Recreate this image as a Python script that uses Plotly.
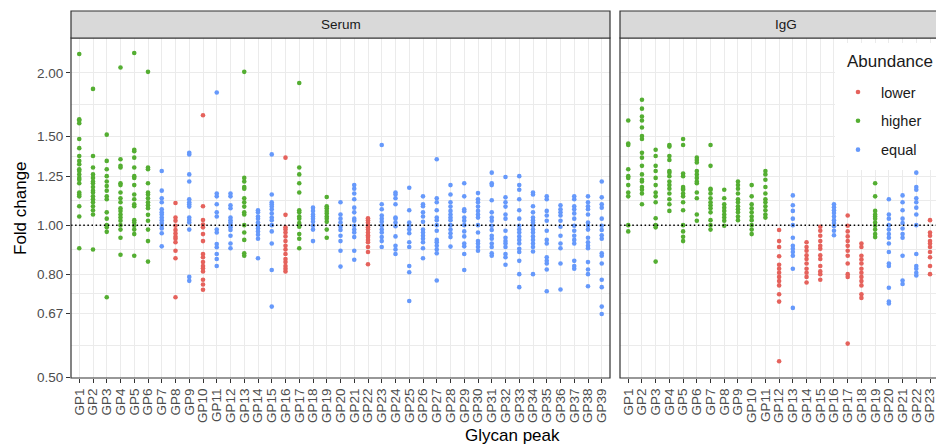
import math
import plotly.graph_objects as go

# ---------------- data ----------------
serum_peaks = [f"GP{i}" for i in range(1, 40)]
serum_abundance = [
    "higher", "higher", "higher", "higher", "higher", "higher", "equal", "lower", "equal", "lower",
    "equal", "equal", "higher", "equal", "equal", "lower", "higher", "equal", "higher", "equal",
    "equal", "lower", "equal", "equal", "equal", "equal", "equal", "equal", "equal", "equal",
    "equal", "equal", "equal", "equal", "equal", "equal", "equal", "equal", "equal",
]
serum_fold_change = [
    [2.18, 1.62, 1.61, 1.59, 1.48, 1.42, 1.37, 1.34, 1.32, 1.29, 1.28, 1.26, 1.24, 1.23, 1.21, 1.16, 1.15, 1.14, 1.09, 1.04, 0.90],
    [1.86, 1.37, 1.30, 1.26, 1.24, 1.22, 1.21, 1.19, 1.17, 1.16, 1.14, 1.125, 1.11, 1.09, 1.07, 1.05, 0.895],
    [1.51, 1.34, 1.29, 1.25, 1.22, 1.195, 1.17, 1.14, 1.125, 1.06, 1.03, 1.00, 0.99, 0.97, 0.72],
    [2.05, 1.35, 1.31, 1.30, 1.21, 1.20, 1.16, 1.13, 1.11, 1.08, 1.067, 1.05, 1.035, 1.02, 1.00, 0.98, 0.944, 0.874],
    [2.19, 1.41, 1.40, 1.36, 1.30, 1.25, 1.24, 1.20, 1.15, 1.125, 1.10, 1.09, 1.023, 1.012, 0.997, 0.98, 0.96, 0.87],
    [2.01, 1.30, 1.29, 1.21, 1.16, 1.15, 1.13, 1.11, 1.095, 1.08, 1.048, 1.02, 0.98, 0.93, 0.847],
    [1.28, 1.17, 1.13, 1.11, 1.075, 1.06, 1.05, 1.035, 1.023, 1.01, 0.997, 0.985, 0.964, 0.908],
    [1.106, 1.035, 1.02, 0.997, 0.978, 0.963, 0.948, 0.94, 0.925, 0.89, 0.86, 0.72],
    [1.39, 1.38, 1.26, 1.22, 1.125, 1.11, 1.10, 1.088, 1.035, 1.024, 1.012, 0.98, 0.79, 0.776],
    [1.65, 1.09, 1.024, 1.003, 0.99, 0.96, 0.93, 0.877, 0.864, 0.845, 0.83, 0.822, 0.81, 0.78, 0.763, 0.745],
    [1.83, 1.155, 1.14, 1.10, 1.06, 1.04, 0.98, 0.967, 0.918, 0.904, 0.877, 0.857, 0.83],
    [1.155, 1.14, 1.095, 1.08, 1.035, 1.023, 1.012, 1.0, 0.99, 0.978, 0.953, 0.92, 0.90],
    [2.01, 1.24, 1.22, 1.19, 1.18, 1.13, 1.11, 1.088, 1.06, 1.05, 1.0, 0.967, 0.935, 0.88, 0.87],
    [1.07, 1.06, 1.04, 1.03, 1.012, 0.997, 0.985, 0.972, 0.957, 0.94, 0.86],
    [1.38, 1.15, 1.11, 1.10, 1.088, 1.075, 1.055, 1.035, 1.023, 1.0, 0.972, 0.92, 0.815, 0.69],
    [1.36, 1.048, 0.99, 0.98, 0.967, 0.95, 0.93, 0.91, 0.895, 0.877, 0.857, 0.845, 0.83, 0.82, 0.81],
    [1.91, 1.30, 1.26, 1.21, 1.16, 1.07, 1.06, 1.04, 1.03, 1.01, 0.993, 0.96, 0.94, 0.90],
    [1.083, 1.067, 1.05, 1.04, 1.03, 1.015, 0.997, 0.98, 0.93],
    [1.137, 1.09, 1.08, 1.067, 1.055, 1.04, 1.03, 1.015, 0.98, 0.944],
    [1.11, 1.05, 1.03, 1.012, 0.993, 0.978, 0.953, 0.93, 0.89, 0.828],
    [1.20, 1.18, 1.155, 1.125, 1.083, 1.06, 1.03, 1.02, 0.997, 0.98, 0.967, 0.947, 0.89, 0.854],
    [1.032, 1.023, 1.012, 1.0, 0.99, 0.98, 0.967, 0.955, 0.947, 0.935, 0.925, 0.905, 0.885, 0.837],
    [1.44, 1.10, 1.075, 1.045, 1.03, 1.015, 0.997, 0.98, 0.967, 0.947, 0.93, 0.905],
    [1.16, 1.15, 1.13, 1.10, 1.035, 1.03, 1.012, 0.995, 0.95, 0.91, 0.895, 0.877],
    [1.186, 1.07, 1.012, 0.997, 0.98, 0.964, 0.925, 0.905, 0.83, 0.807, 0.708],
    [1.14, 1.10, 1.09, 1.06, 1.04, 1.015, 0.98, 0.967, 0.953, 0.94, 0.925, 0.90, 0.86],
    [1.35, 1.13, 1.11, 1.07, 1.035, 1.023, 1.0, 0.975, 0.935, 0.925, 0.91, 0.895, 0.88, 0.777],
    [1.20, 1.15, 1.11, 1.088, 1.067, 1.05, 1.035, 1.023, 1.0, 0.98, 0.964, 0.947, 0.907],
    [1.21, 1.14, 1.075, 1.065, 1.035, 1.02, 1.0, 0.972, 0.95, 0.92, 0.908, 0.877, 0.815],
    [1.157, 1.125, 1.11, 1.088, 1.067, 1.05, 1.035, 1.0, 0.967, 0.93, 0.92, 0.905, 0.89],
    [1.27, 1.21, 1.20, 1.12, 1.06, 1.035, 1.02, 0.997, 0.978, 0.953, 0.94, 0.92, 0.905, 0.88, 0.87],
    [1.245, 1.135, 1.11, 1.088, 1.05, 1.03, 0.975, 0.944, 0.93, 0.92, 0.905, 0.877, 0.864, 0.835],
    [1.25, 1.20, 1.175, 1.125, 1.07, 1.03, 0.997, 0.98, 0.967, 0.95, 0.935, 0.92, 0.898, 0.885, 0.85, 0.80, 0.754],
    [1.16, 1.15, 1.09, 1.06, 1.035, 1.023, 1.012, 0.997, 0.98, 0.967, 0.95, 0.935, 0.92, 0.905, 0.887, 0.80],
    [1.14, 1.125, 1.067, 1.045, 1.02, 0.975, 0.935, 0.92, 0.864, 0.85, 0.84, 0.817, 0.74],
    [1.095, 1.075, 1.06, 1.045, 1.02, 0.993, 0.953, 0.92, 0.90, 0.84, 0.746],
    [1.14, 1.125, 1.09, 1.075, 1.055, 1.03, 0.997, 0.975, 0.953, 0.935, 0.92, 0.85, 0.83, 0.82],
    [1.14, 1.11, 1.09, 1.075, 1.05, 1.012, 0.997, 0.98, 0.944, 0.925, 0.91, 0.90, 0.845, 0.817, 0.80, 0.757],
    [1.22, 1.135, 1.10, 1.083, 1.03, 0.997, 0.978, 0.955, 0.94, 0.88, 0.87, 0.84, 0.78, 0.754, 0.69, 0.667],
]

igg_peaks = [f"GP{i}" for i in range(1, 25)]
igg_abundance = [
    "higher", "higher", "higher", "higher", "higher", "higher", "higher", "higher", "higher", "higher",
    "higher", "lower", "equal", "lower", "lower", "equal", "lower", "lower", "higher", "equal",
    "equal", "equal", "lower", "equal",
]
igg_fold_change = [
    [1.61, 1.45, 1.44, 1.29, 1.25, 1.24, 1.20, 1.16, 1.14, 1.0, 0.972],
    [1.77, 1.70, 1.64, 1.61, 1.56, 1.50, 1.48, 1.39, 1.36, 1.31, 1.26, 1.23, 1.22, 1.19, 1.175, 1.155, 1.10],
    [1.41, 1.37, 1.31, 1.28, 1.24, 1.20, 1.16, 1.14, 1.11, 1.032, 1.0, 0.99, 0.847],
    [1.44, 1.43, 1.37, 1.345, 1.28, 1.27, 1.25, 1.22, 1.20, 1.18, 1.155, 1.125, 1.10, 1.067],
    [1.48, 1.44, 1.265, 1.25, 1.19, 1.18, 1.175, 1.155, 1.14, 1.11, 1.07, 1.0, 0.972, 0.948, 0.93],
    [1.36, 1.345, 1.33, 1.28, 1.26, 1.24, 1.22, 1.21, 1.16, 1.13, 1.05, 1.02],
    [1.44, 1.31, 1.18, 1.175, 1.155, 1.13, 1.11, 1.095, 1.08, 1.06, 1.023, 1.0, 0.98],
    [1.175, 1.13, 1.10, 1.083, 1.067, 1.05, 1.035, 1.02, 0.997],
    [1.22, 1.20, 1.18, 1.155, 1.125, 1.11, 1.09, 1.075, 1.06, 1.04, 1.023],
    [1.20, 1.14, 1.10, 1.08, 1.06, 1.04, 1.023, 1.0, 0.98, 0.96],
    [1.28, 1.26, 1.23, 1.19, 1.155, 1.125, 1.11, 1.09, 1.07, 1.05, 1.035],
    [0.978, 0.93, 0.905, 0.868, 0.835, 0.82, 0.805, 0.79, 0.775, 0.76, 0.73, 0.706, 0.538],
    [1.145, 1.095, 1.067, 1.03, 1.0, 0.944, 0.91, 0.898, 0.885, 0.87, 0.82, 0.686],
    [0.925, 0.905, 0.89, 0.872, 0.857, 0.84, 0.82, 0.805, 0.79, 0.77],
    [0.993, 0.975, 0.953, 0.93, 0.91, 0.898, 0.872, 0.857, 0.83, 0.81, 0.80, 0.78],
    [1.10, 1.085, 1.07, 1.057, 1.04, 1.023, 1.01, 0.995, 0.975, 0.955],
    [1.045, 0.997, 0.972, 0.95, 0.93, 0.91, 0.89, 0.87, 0.84, 0.80, 0.79, 0.583],
    [0.92, 0.905, 0.87, 0.855, 0.84, 0.82, 0.805, 0.79, 0.775, 0.76, 0.73, 0.718],
    [1.21, 1.14, 1.067, 1.05, 1.04, 1.03, 1.012, 0.997, 0.98, 0.96, 0.947],
    [1.125, 1.05, 1.03, 1.0, 0.98, 0.96, 0.944, 0.92, 0.885, 0.84, 0.83, 0.752, 0.706, 0.70],
    [1.145, 1.11, 1.07, 1.03, 1.01, 0.985, 0.96, 0.944, 0.87, 0.777, 0.765],
    [1.27, 1.19, 1.175, 1.13, 1.11, 1.083, 1.05, 1.0, 0.877, 0.83, 0.82, 0.805, 0.795],
    [1.023, 0.967, 0.953, 0.93, 0.92, 0.905, 0.885, 0.864, 0.83, 0.80],
    [1.18, 1.135, 1.09, 1.05, 1.0, 0.95, 0.88],
]

abundance_levels = ["lower", "higher", "equal"]
abundance_colors = {"lower": "#E5625C", "higher": "#54AE32", "equal": "#6699FB"}

y_tick_values = [0.5, 0.67, 0.8, 1.0, 1.25, 1.5, 2.0]
y_tick_labels = ["0.50", "0.67", "0.80", "1.00", "1.25", "1.50", "2.00"]

# ---------------- figure ----------------
FONT = "Liberation Sans, Arial, Helvetica, sans-serif"
OFF = 8  # page body margin
W, H = 944 - OFF, 444 - OFF
ML, MT = 71 - OFF, 38 - OFF
PANEL_BOTTOM = 378 - OFF
MB = H - PANEL_BOTTOM
MR = 0
PW, PH = W - ML - MR, H - MT - MB


def px(sx):
    """screen x -> paper x"""
    return (sx - OFF - ML) / PW


def py(sy):
    """screen y -> paper y"""
    return (PANEL_BOTTOM - (sy - OFF)) / PH


fig = go.Figure()

panels = [
    ("x", "y", serum_peaks, serum_abundance, serum_fold_change),
    ("x2", "y2", igg_peaks, igg_abundance, igg_fold_change),
]
shown = set()
for xa, ya, peaks, abund, folds in panels:
    for level in abundance_levels:
        xs, ys = [], []
        for p, a, vals in zip(peaks, abund, folds):
            if a == level:
                xs += [p] * len(vals)
                ys += vals
        if not xs:
            continue
        fig.add_trace(go.Scatter(
            x=xs, y=ys, mode="markers", xaxis=xa, yaxis=ya,
            name=level, legendgroup=level, showlegend=level not in shown,
            marker=dict(size=4.6, color=abundance_colors[level], line=dict(width=0)),
            hoverinfo="x+y+name",
        ))
        shown.add(level)

minor_vals = [math.sqrt(a * b) for a, b in zip(y_tick_values[:-1], y_tick_values[1:])]
y_range = [math.log10(0.4985), math.log10(2.345)]

x1_dom = [0, px(610)]
x2_dom = [px(620), 1]

common_x = dict(
    type="category", showgrid=True, gridcolor="#EBEBEB", gridwidth=1.1,
    ticks="outside", ticklen=4, tickcolor="#333333", tickwidth=1.1,
    tickangle=-90, tickfont=dict(family=FONT, size=13.5, color="#4D4D4D"),
    zeroline=False, showline=False, tickmode="array", automargin=False,
)
fig.update_layout(
    width=W, height=H,
    margin=dict(l=ML, r=MR, t=MT, b=MB, pad=0),
    paper_bgcolor="white", plot_bgcolor="white",
    font=dict(family=FONT, color="#1A1A1A"),
    xaxis=dict(domain=x1_dom, range=[-0.6, len(serum_peaks) - 0.4],
               categoryorder="array", categoryarray=serum_peaks,
               tickvals=serum_peaks, ticktext=serum_peaks, anchor="y", **common_x),
    xaxis2=dict(domain=x2_dom, range=[-0.6, 23.02],
                categoryorder="array", categoryarray=igg_peaks,
                tickvals=igg_peaks, ticktext=igg_peaks, anchor="y2", **common_x),
    yaxis=dict(type="log", range=y_range, tickmode="array",
               tickvals=y_tick_values, ticktext=y_tick_labels,
               showgrid=True, gridcolor="#EBEBEB", gridwidth=1.1,
               minor=dict(tickmode="array", tickvals=minor_vals, showgrid=True,
                          gridcolor="#EBEBEB", gridwidth=0.6, ticks=""),
               ticks="outside", ticklen=4, tickcolor="#333333", tickwidth=1.1,
               tickfont=dict(family=FONT, size=13.5, color="#4D4D4D"),
               zeroline=False, showline=False, anchor="x", automargin=False),
    yaxis2=dict(type="log", range=y_range, matches="y", tickmode="array",
                tickvals=y_tick_values, showticklabels=False,
                showgrid=True, gridcolor="#EBEBEB", gridwidth=1.1,
                minor=dict(tickmode="array", tickvals=minor_vals, showgrid=True,
                           gridcolor="#EBEBEB", gridwidth=0.6, ticks=""),
                ticks="", zeroline=False, showline=False, anchor="x2", automargin=False),
    legend=dict(
        x=px(835), y=py(76), xanchor="left", yanchor="top",
        bgcolor="rgba(255,255,255,0)", borderwidth=0,
        font=dict(family=FONT, size=14.5, color="#1A1A1A"),
        traceorder="grouped", tracegroupgap=7, itemsizing="trace", itemwidth=36,
    ),
    showlegend=True,
)

strip_top = py(11)
shapes = []
# reference line at 1
for xr, yr in (("x domain", "y"), ("x2 domain", "y2")):
    shapes.append(dict(type="line", xref=xr, yref=yr, x0=0, x1=1, y0=1.0, y1=1.0,
                       line=dict(color="black", width=1.5, dash="1.5px,2.6px"), layer="above"))
# legend background box
shapes.append(dict(type="rect", xref="paper", yref="paper", x0=px(835), x1=1.02,
                   y0=py(170), y1=py(43), line=dict(width=0), fillcolor="white", layer="above"))
# panel borders
shapes.append(dict(type="rect", xref="x domain", yref="paper", x0=0, x1=1, y0=0, y1=1,
                   line=dict(color="#333333", width=1.2), fillcolor="rgba(0,0,0,0)", layer="above"))
shapes.append(dict(type="path", xref="x2 domain", yref="paper",
                   path="M 1.05,0 L 0,0 L 0,1 L 1.05,1",
                   line=dict(color="#333333", width=1.2), layer="above"))
# strips
shapes.append(dict(type="rect", xref="x domain", yref="paper", x0=0, x1=1, y0=1, y1=strip_top,
                   line=dict(color="#333333", width=1.2), fillcolor="#D9D9D9", layer="above"))
shapes.append(dict(type="rect", xref="x2 domain", yref="paper", x0=0, x1=1.05, y0=1, y1=strip_top,
                   line=dict(color="#333333", width=1.2), fillcolor="#D9D9D9", layer="above"))
fig.update_layout(shapes=shapes)

strip_mid = (1 + strip_top) / 2
annotations = [
    dict(text="Serum", xref="x domain", yref="paper", x=0.5, y=strip_mid, showarrow=False,
         font=dict(family=FONT, size=13.5, color="#1A1A1A"), xanchor="center", yanchor="middle"),
    dict(text="IgG", xref="paper", yref="paper", x=px(786), y=strip_mid, showarrow=False,
         font=dict(family=FONT, size=13.5, color="#1A1A1A"), xanchor="center", yanchor="middle"),
    dict(text="Fold change", xref="paper", yref="paper", x=px(20), y=0.5, showarrow=False,
         textangle=-90, font=dict(family=FONT, size=17, color="black"),
         xanchor="center", yanchor="middle"),
    dict(text="Glycan peak", xref="paper", yref="paper", x=px(512), y=py(435),
         showarrow=False, font=dict(family=FONT, size=17, color="black"),
         xanchor="center", yanchor="middle"),
    dict(text="Abundance", xref="paper", yref="paper", x=px(845), y=py(62),
         showarrow=False, font=dict(family=FONT, size=17, color="#1A1A1A"),
         xanchor="left", yanchor="middle"),
]
fig.update_layout(annotations=annotations)

fig.write_html("out.html")
